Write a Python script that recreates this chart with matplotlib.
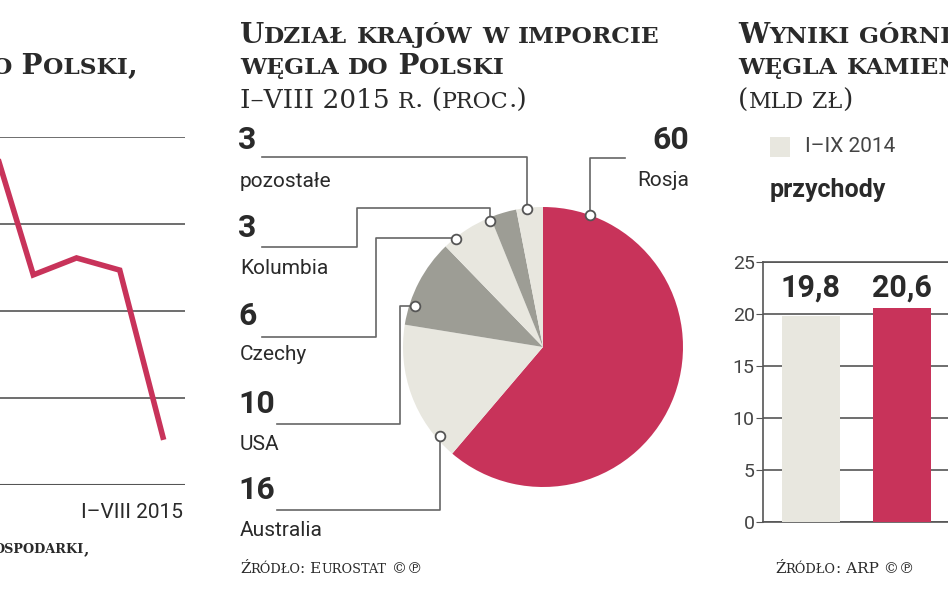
import matplotlib.pyplot as plt
from matplotlib.patches import Rectangle

W, H = 948, 593
CRIMSON = '#c8335a'
LIGHT = '#e8e7df'
GRAY = '#9d9d95'
DARK = '#2a2a2a'
GRID = '#555555'

# left panel (line, cut off)
line_idx = [0, 1, 2, 3, 4]
line_vals = [8.1, 4.83, 5.22, 4.94, 1.1]

# middle panel (pie)
countries = ['Rosja', 'Australia', 'USA', 'Czechy', 'Kolumbia', 'pozostałe']
shares = [60, 16, 10, 6, 3, 3]

# right panel (bars)
bar_labels = ['I-IX 2014', 'I-IX 2015']
bar_vals = [19.8, 20.6]

fig = plt.figure(figsize=(W / 100, H / 100), dpi=100)
fig.patch.set_facecolor('white')


def fx(x):
    return x / W


def fy(y):
    return 1 - y / H


def px_axes(x0, y0, x1, y1):
    return fig.add_axes([fx(x0), fy(y1), (x1 - x0) / W, (y1 - y0) / H])


renderer = fig.canvas.get_renderer()


def smallcaps(x, y, text, size, weight='bold', ratio=0.84, color=DARK):
    # fake small caps: lowercase letters drawn as smaller capitals
    cur = x
    runs = []
    for ch in text:
        small = ch.islower()
        if runs and runs[-1][1] == small:
            runs[-1][0] += ch
        else:
            runs.append([ch, small])
    for s, small in runs:
        t = fig.text(fx(cur), fy(y), s.upper() if small else s,
                     fontsize=size * ratio if small else size,
                     family=['DejaVu Serif', 'DejaVu Sans'], weight=weight,
                     color=color, va='baseline', ha='left')
        cur += t.get_window_extent(renderer).width


# ---------- left panel ----------
ax = px_axes(0, 137, 185, 485)
ax.plot(line_idx, line_vals, color=CRIMSON, lw=4, clip_on=False,
        solid_joinstyle='miter')
ax.set_xlim(0.23, 4.51)
ax.set_ylim(0, 8)
ax.set_yticks([0, 2, 4, 6, 8])
ax.grid(axis='y', color=GRID, lw=1.2)
ax.set_axisbelow(True)
ax.tick_params(left=False, bottom=False, labelleft=False, labelbottom=False)
for s in ax.spines.values():
    s.set_visible(False)
ax.axhline(0, color=GRID, lw=1.5)
ax.patch.set_alpha(0)
smallcaps(-8, 74, 'o Polski,', 20)
fig.text(fx(183), fy(512), 'I–VIII 2015', fontsize=15, family='Roboto',
         color=DARK, ha='right', va='center')
smallcaps(-6, 553, 'ospodarki,', 11)

# ---------- middle panel ----------
smallcaps(240, 43, 'Udział krajów w imporcie', 20)
smallcaps(240, 74, 'węgla do Polski', 20)
smallcaps(240, 108, 'I–VIII 2015 r. (proc.)', 19, weight='normal')

cx, cy, r = 543, 347, 140
axp = px_axes(cx - r, cy - r, cx + r, cy + r)
axp.pie(shares, colors=[CRIMSON, LIGHT, GRAY, LIGHT, GRAY, LIGHT],
        startangle=90, counterclock=False, radius=1,
        wedgeprops=dict(linewidth=0))
axp.set_xlim(-1, 1)
axp.set_ylim(-1, 1)
axp.set_aspect('equal')

ov = fig.add_axes([0, 0, 1, 1])
ov.set_xlim(0, W)
ov.set_ylim(H, 0)
ov.axis('off')
ov.patch.set_alpha(0)

leaders = [
    [(527, 209), (527, 157), (262, 157)],
    [(490, 221), (490, 208), (357, 208), (357, 247), (262, 247)],
    [(456, 239), (456, 238), (376, 238), (376, 337), (262, 337)],
    [(415, 306), (400, 306), (400, 424), (277, 424)],
    [(440, 436), (440, 510), (277, 510)],
    [(590, 215), (590, 158), (625, 158)],
]
for pts in leaders:
    xs, ys = zip(*pts)
    ov.plot(xs, ys, color='#666666', lw=1.2)
    ov.plot(xs[0], ys[0], 'o', ms=7, mfc='white', mec='#555555', mew=1.3)

labels_left = [('3', 'pozostałe', 140, 182), ('3', 'Kolumbia', 228, 268),
               ('6', 'Czechy', 316, 355), ('10', 'USA', 404, 444),
               ('16', 'Australia', 490, 530)]
for num, name, yn, yl in labels_left:
    fig.text(fx(238), fy(yn), num, fontsize=23, weight='bold', family='Roboto',
             color=DARK, va='center')
    fig.text(fx(240), fy(yl), name, fontsize=15, family='Roboto', color=DARK,
             va='center')
fig.text(fx(689), fy(140), str(shares[0]), fontsize=23, weight='bold',
         family='Roboto', color=DARK, va='center', ha='right')
fig.text(fx(689), fy(181), countries[0], fontsize=15, family='Roboto',
         color=DARK, va='center', ha='right')
smallcaps(240, 573, 'Źródło: Eurostat ©℗', 11, weight='normal')

# ---------- right panel ----------
smallcaps(738, 43, 'Wyniki górniczych', 20)
smallcaps(738, 74, 'węgla kamiennego', 20)
smallcaps(738, 108, '(mld zł)', 19, weight='normal')
ov.add_patch(Rectangle((770, 137), 20, 20, color=LIGHT, lw=0))
fig.text(fx(805), fy(147), 'I–IX 2014', fontsize=15, family='Roboto',
         color='#444444', va='center')
fig.text(fx(770), fy(190), 'przychody', fontsize=18, weight='bold',
         family='Roboto', color=DARK, va='center')

axb = px_axes(763, 262, 1010, 522)
xpos = [0, 1]
axb.bar(xpos, bar_vals, width=0.64, color=[LIGHT, CRIMSON], zorder=3)
for x, v in zip(xpos, bar_vals):
    axb.text(x, 22.5, f'{v:.1f}'.replace('.', ','), ha='center', va='center',
             fontsize=22, weight='bold', family='Roboto', color=DARK)
axb.set_xlim(-0.527, 2.19)
axb.set_ylim(0, 25)
axb.set_yticks([0, 5, 10, 15, 20, 25])
axb.grid(axis='y', color=GRID, lw=1.2)
axb.set_axisbelow(True)
axb.tick_params(axis='y', length=5, color=GRID, labelsize=14, labelcolor='#444444',
                pad=1)
axb.tick_params(axis='x', bottom=False, labelbottom=False)
for lab in axb.get_yticklabels():
    lab.set_family('Roboto')
axb.spines['right'].set_visible(False)
for k in ['left', 'top', 'bottom']:
    axb.spines[k].set_color(GRID)
    axb.spines[k].set_linewidth(1.2)
smallcaps(775, 573, 'Źródło: ARP ©℗', 11, weight='normal')

fig.savefig('out.png', dpi=100)
